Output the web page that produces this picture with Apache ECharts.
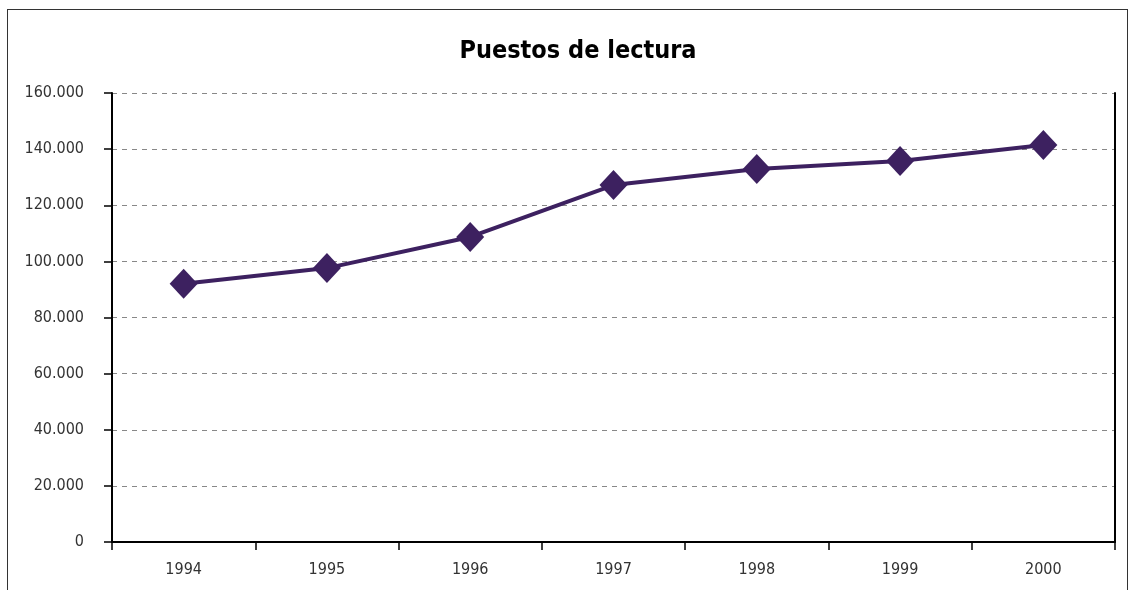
<!DOCTYPE html>
<html>
<head>
<meta charset="utf-8">
<script src="https://cdn.jsdelivr.net/npm/echarts@6/dist/echarts.min.js"></script>
<style>
  html, body { margin: 0; padding: 0; background: #fff; }
  #frame {
    position: absolute; left: 7px; top: 9px; width: 1121px; height: 600px;
    border: 1px solid #333; box-sizing: border-box;
  }
  #chart { position: absolute; left: 0; top: 0; width: 1130px; height: 590px; }
</style>
</head>
<body>
<div id="frame"></div>
<div id="chart"></div>
<script>
// datos
const years = ['1994', '1995', '1996', '1997', '1998', '1999', '2000'];
const puestos = [92000, 97600, 108700, 127200, 132900, 135800, 141500];
const yTicks = [0, 20000, 40000, 60000, 80000, 100000, 120000, 140000, 160000];

const fontFam = "'Liberation Sans Narrow', 'DejaVu Sans Condensed', 'Roboto', sans-serif";

const myChart = echarts.init(document.getElementById('chart'));

const option = {
  animation: false,
  title: {
    text: 'Puestos de lectura',
    left: 573,
    textAlign: 'center',
    top: 34,
    textStyle: {
      fontFamily: fontFam,
      fontSize: 25,
      fontWeight: 'bold',
      color: '#000'
    }
  },
  grid: { left: 112, right: 15, top: 93, bottom: 48 },
  xAxis: {
    type: 'category',
    data: years,
    boundaryGap: true,
    axisLine: { lineStyle: { color: '#000', width: 2 } },
    axisTick: { show: true, length: 8, lineStyle: { color: '#000', width: 1.5 } },
    axisLabel: { fontFamily: fontFam, fontSize: 16, color: '#333', margin: 20 }
  },
  yAxis: [
    {
      type: 'value',
      min: yTicks[0],
      max: yTicks[yTicks.length - 1],
      interval: 20000,
      axisLine: { show: true, lineStyle: { color: '#000', width: 2 } },
      axisTick: { show: true, length: 8, lineStyle: { color: '#000', width: 1.5 } },
      axisLabel: {
        fontFamily: fontFam, fontSize: 16, color: '#333', margin: 28,
        formatter: v => v === 0 ? '0' : (v / 1000) + '.000'
      },
      splitLine: { lineStyle: { color: '#888', type: [5, 5], width: 1 } }
    },
    {
      type: 'value',
      position: 'right',
      min: 0,
      max: 160000,
      interval: 20000,
      axisLine: { show: true, lineStyle: { color: '#000', width: 2 } },
      axisTick: { show: false },
      axisLabel: { show: false },
      splitLine: { show: false }
    }
  ],
  series: [
    {
      name: 'Puestos de lectura',
      type: 'line',
      data: puestos,
      symbol: 'diamond',
      symbolSize: [28, 30],
      lineStyle: { color: '#3d2160', width: 4 },
      itemStyle: { color: '#3d2160' }
    }
  ]
};

myChart.setOption(option);
</script>
</body>
</html>
